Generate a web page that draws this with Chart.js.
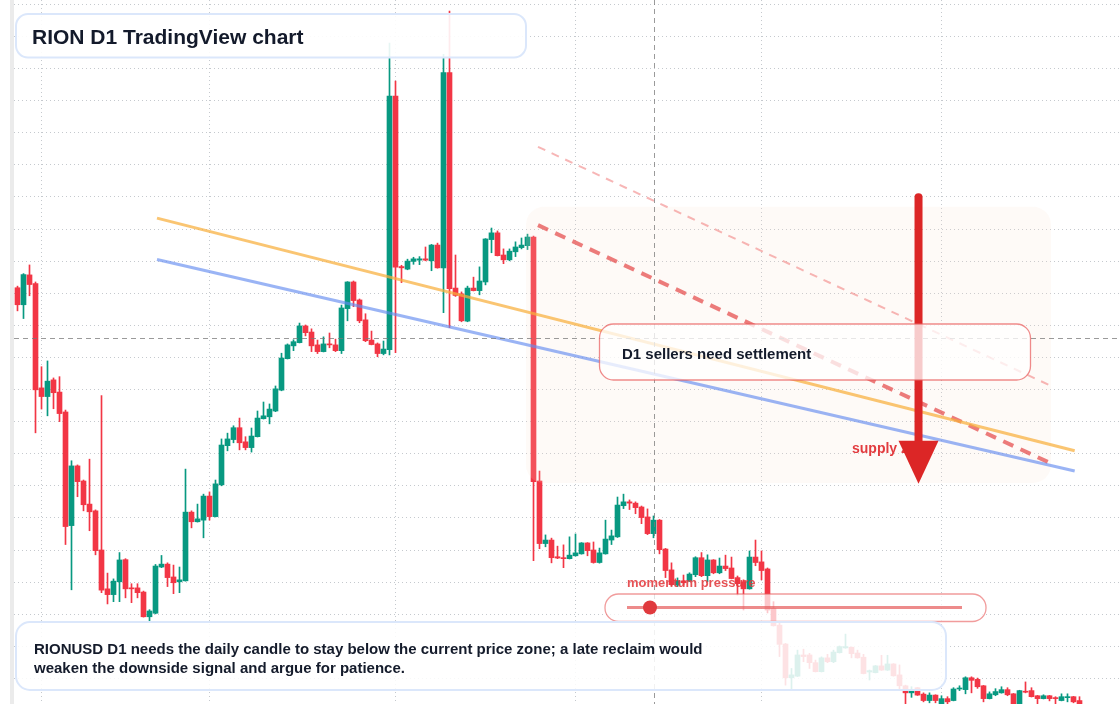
<!DOCTYPE html>
<html><head><meta charset="utf-8">
<script src="https://cdn.jsdelivr.net/npm/chart.js@4.4.1/dist/chart.umd.min.js"></script>
<style>
html,body{margin:0;padding:0;background:#fff;}
#wrap{position:relative;width:1120px;height:704px;overflow:hidden;background:#fff;}
#strip{position:absolute;left:10px;top:0;width:4px;height:704px;background:#ebebeb;}
#c{position:absolute;left:0;top:0;}
</style></head><body>
<div id="wrap"><div id="strip"></div><canvas id="c" width="1120" height="704"></canvas></div>
<script>
// ---- data (daily candles, RIONUSD D1) ----
const opens = [1.317,1.264,1.357,1.330,1.005,0.978,1.030,0.992,0.930,0.576,0.762,0.715,0.643,0.622,0.500,0.379,0.361,0.401,0.470,0.382,
0.382,0.369,0.292,0.303,0.447,0.456,0.416,0.401,0.404,0.618,0.588,0.593,0.668,0.604,0.703,0.825,0.844,0.881,0.837,0.819,
0.853,0.909,0.915,0.933,0.998,1.096,1.136,1.146,1.198,1.179,1.139,1.118,1.142,1.139,1.121,1.252,1.335,1.279,1.217,1.154,
1.142,1.112,1.124,1.914,1.383,1.375,1.399,1.403,1.407,1.401,1.450,1.379,1.987,1.316,1.298,1.213,1.316,1.308,1.335,1.467,
1.488,1.419,1.404,1.429,1.442,1.448,1.475,0.715,0.520,0.531,0.479,0.476,0.473,0.482,0.488,0.522,0.500,0.461,0.488,0.531,
0.541,0.638,0.650,0.646,0.634,0.603,0.551,0.593,0.503,0.438,0.391,0.404,0.403,0.423,0.476,0.420,0.469,0.429,0.450,0.444,
0.414,0.401,0.379,0.478,0.463,0.441,0.318,0.266,0.207,0.102,0.107,0.173,0.173,0.149,0.121,0.164,0.152,0.180,0.195,0.197,
0.179,0.166,0.120,0.118,0.139,0.126,0.145,0.111,0.077,0.055,0.071,0.051,0.031,0.048,0.017,0.037,0.031,0.067,0.065,0.102,
0.097,0.077,0.037,0.049,0.055,0.065,0.052,0.017,0.060,0.062,0.046,0.037,0.046,0.040,0.031,0.040,0.043,0.031];
const highs = [1.322,1.361,1.388,1.335,1.071,1.089,1.036,1.040,0.936,0.778,0.765,0.718,0.783,0.625,0.981,0.428,0.410,0.492,0.473,0.395,
0.395,0.372,0.314,0.455,0.483,0.460,0.453,0.447,0.752,0.622,0.643,0.674,0.681,0.718,0.846,0.864,0.887,0.911,0.853,0.880,
0.933,0.961,0.955,1.011,1.113,1.142,1.155,1.207,1.201,1.189,1.154,1.164,1.176,1.157,1.263,1.336,1.338,1.282,1.236,1.182,
1.145,1.151,2.079,1.961,1.387,1.406,1.412,1.414,1.444,1.452,1.456,2.044,2.179,1.419,1.304,1.322,1.350,1.382,1.470,1.503,
1.494,1.438,1.438,1.460,1.472,1.484,1.478,0.746,0.547,0.537,0.512,0.516,0.541,0.550,0.523,0.523,0.525,0.506,0.593,0.562,
0.665,0.674,0.656,0.650,0.637,0.628,0.606,0.595,0.505,0.460,0.413,0.422,0.429,0.479,0.492,0.485,0.470,0.475,0.484,0.478,
0.419,0.407,0.497,0.531,0.497,0.444,0.339,0.272,0.209,0.131,0.188,0.191,0.178,0.157,0.167,0.175,0.188,0.201,0.238,0.198,
0.188,0.175,0.126,0.140,0.172,0.172,0.146,0.142,0.079,0.074,0.072,0.055,0.055,0.049,0.046,0.043,0.071,0.077,0.105,0.105,
0.101,0.078,0.058,0.068,0.074,0.071,0.053,0.063,0.089,0.071,0.047,0.049,0.047,0.043,0.052,0.052,0.044,0.043];
const lows = [1.245,1.221,1.292,0.865,0.939,0.918,0.940,0.900,0.517,0.376,0.666,0.622,0.560,0.485,0.367,0.332,0.339,0.339,0.351,0.336,
0.351,0.291,0.277,0.301,0.445,0.386,0.364,0.367,0.403,0.569,0.587,0.538,0.593,0.603,0.700,0.809,0.834,0.812,0.812,0.805,
0.852,0.908,0.893,0.931,0.996,1.095,1.121,1.145,1.167,1.118,1.112,1.117,1.130,1.118,1.112,1.214,1.258,1.208,1.149,1.139,
1.102,1.108,1.108,1.115,1.333,1.373,1.390,1.389,1.401,1.370,1.378,1.239,1.193,1.290,1.211,1.211,1.307,1.295,1.326,1.426,
1.416,1.392,1.401,1.414,1.438,1.436,0.467,0.504,0.510,0.460,0.473,0.445,0.472,0.481,0.487,0.482,0.459,0.459,0.487,0.517,
0.539,0.629,0.626,0.613,0.582,0.548,0.538,0.488,0.414,0.389,0.386,0.391,0.402,0.417,0.417,0.401,0.426,0.426,0.436,0.410,
0.360,0.313,0.378,0.451,0.407,0.304,0.263,0.168,0.079,0.067,0.106,0.152,0.131,0.120,0.120,0.149,0.149,0.179,0.194,0.164,
0.163,0.114,0.095,0.117,0.125,0.125,0.107,0.064,0.018,0.041,0.047,0.027,0.024,0.024,0.016,0.018,0.030,0.062,0.052,0.055,
0.069,0.027,0.036,0.046,0.054,0.046,0.014,0.014,0.055,0.042,0.020,0.036,0.030,0.020,0.030,0.027,0.024,0.017];
const closes = [1.264,1.358,1.327,0.999,0.978,1.026,0.990,0.925,0.573,0.762,0.713,0.641,0.619,0.498,0.375,0.361,0.403,0.469,0.379,0.379,
0.367,0.292,0.310,0.450,0.456,0.414,0.398,0.407,0.618,0.588,0.597,0.668,0.604,0.706,0.827,0.846,0.881,0.834,0.819,0.855,
0.911,0.918,0.939,1.002,1.098,1.139,1.149,1.198,1.177,1.136,1.118,1.142,1.139,1.121,1.254,1.335,1.277,1.214,1.152,1.140,
1.112,1.126,1.914,1.381,1.379,1.400,1.407,1.407,1.403,1.450,1.379,1.987,1.314,1.293,1.214,1.316,1.308,1.338,1.469,1.488,
1.417,1.404,1.431,1.444,1.450,1.475,0.713,0.520,0.531,0.476,0.475,0.473,0.484,0.491,0.522,0.498,0.461,0.491,0.534,0.544,
0.640,0.650,0.646,0.632,0.601,0.551,0.593,0.501,0.436,0.392,0.404,0.398,0.425,0.476,0.420,0.469,0.429,0.450,0.442,0.411,
0.395,0.379,0.478,0.461,0.436,0.313,0.264,0.206,0.102,0.111,0.173,0.168,0.149,0.121,0.164,0.152,0.182,0.199,0.199,0.177,
0.164,0.115,0.124,0.139,0.126,0.145,0.108,0.077,0.055,0.062,0.048,0.031,0.048,0.031,0.037,0.027,0.067,0.070,0.102,0.094,
0.074,0.037,0.052,0.059,0.065,0.049,0.017,0.062,0.057,0.043,0.037,0.046,0.037,0.037,0.043,0.043,0.027,0.017];

// month boundaries (candle index of first day) and price grid
const monthStarts = [4, 32, 63, 93, 124, 154];
const monthLabels = ['Feb', 'Mar', 'Apr', 'May', 'Jun', 'Jul'];
const priceTicks = [0.1,0.2,0.3,0.4,0.5,0.6,0.7,0.8,0.9,1.0,1.1,1.2,1.3,1.4,1.5,1.6,1.7,1.8,1.9,2.0,2.1,2.2];

// drawn studies: [candleIndex, price] endpoints
const trendUpper = [[23.25, 1.534], [176.2, 0.809]];
const trendLower = [[23.25, 1.405], [176.2, 0.746]];
const channelMid = [[86.75, 1.512], [172.8, 0.765]];
const channelTop = [[86.75, 1.756], [172.5, 1.009]];
const supplyZone = {x0: 84.75, x1: 172.25, top: 1.569, bottom: 0.709};
const arrowStudy = {x: 150.17, from: 1.611, headBase: 0.8405, tip: 0.706};
const crosshair = {x: 106.08, price: 1.160};

const XMIN = -0.5833, XMAX = 183.75, YMIN = 0.02025, YMAX = 2.2134;
const GREEN = '#089981', RED = '#f23645';
const GRID = '#c5c9ce';
const FONT = '"Liberation Sans", Arial, Helvetica, sans-serif';

const idx = opens.map((_, i) => i);
const colors = idx.map(i => closes[i] >= opens[i] ? GREEN : RED);
const toPts = arr => arr.map(p => ({x: p[0], y: p[1]}));

function rr(ctx, x, y, w, h, r) {
  ctx.beginPath();
  ctx.moveTo(x + r, y);
  ctx.lineTo(x + w - r, y);
  ctx.arcTo(x + w, y, x + w, y + r, r);
  ctx.lineTo(x + w, y + h - r);
  ctx.arcTo(x + w, y + h, x + w - r, y + h, r);
  ctx.lineTo(x + r, y + h);
  ctx.arcTo(x, y + h, x, y + h - r, r);
  ctx.lineTo(x, y + r);
  ctx.arcTo(x, y, x + r, y, r);
  ctx.closePath();
}

const overlay = {
  id: 'overlay',
  beforeDatasetsDraw(chart) {
    // month gridlines (vertical) from the x scale
    const {ctx, scales: {x}, chartArea: ca} = chart;
    ctx.save();
    ctx.strokeStyle = GRID; ctx.lineWidth = 1; ctx.setLineDash([1, 3]);
    monthStarts.forEach(v => {
      const px = Math.round(x.getPixelForValue(v)) + 0.5;
      ctx.beginPath(); ctx.moveTo(px, ca.top); ctx.lineTo(px, ca.bottom); ctx.stroke();
    });
    ctx.restore();
  },
  afterDatasetDraw(chart, args) {
    if (args.index !== 1) return;
    const {ctx, scales: {x, y}} = chart;
    const x0 = x.getPixelForValue(supplyZone.x0), x1 = x.getPixelForValue(supplyZone.x1);
    const y0 = y.getPixelForValue(supplyZone.top), y1 = y.getPixelForValue(supplyZone.bottom);
    ctx.save();
    rr(ctx, x0, y0, x1 - x0, y1 - y0, 18);
    ctx.fillStyle = 'rgba(250,222,205,0.16)';
    ctx.fill();
    ctx.restore();
  },
  afterDraw(chart) {
    const {ctx, scales: {x, y}, chartArea: ca} = chart;
    ctx.save();
    // crosshair
    ctx.strokeStyle = 'rgba(120,120,120,0.75)';
    ctx.lineWidth = 1;
    ctx.setLineDash([5, 4]);
    const cy = Math.round(y.getPixelForValue(crosshair.price)) + 0.5;
    const cx = Math.round(x.getPixelForValue(crosshair.x)) + 0.5;
    ctx.beginPath(); ctx.moveTo(ca.left, cy); ctx.lineTo(ca.right, cy); ctx.stroke();
    ctx.beginPath(); ctx.moveTo(cx, ca.top); ctx.lineTo(cx, ca.bottom); ctx.stroke();
    ctx.setLineDash([]);

    // supply zone label
    ctx.font = 'bold 14px ' + FONT;
    ctx.fillStyle = '#e23b3f';
    ctx.fillText('supply zone', 852, 453);

    // arrow
    const ax = x.getPixelForValue(arrowStudy.x);
    const aTop = y.getPixelForValue(arrowStudy.from);
    const aBase = y.getPixelForValue(arrowStudy.headBase);
    const aTip = y.getPixelForValue(arrowStudy.tip);
    ctx.strokeStyle = '#dc2626'; ctx.fillStyle = '#dc2626';
    ctx.lineWidth = 8; ctx.lineCap = 'round';
    ctx.beginPath(); ctx.moveTo(ax, aTop + 4); ctx.lineTo(ax, aBase + 4); ctx.stroke();
    ctx.lineCap = 'butt';
    ctx.beginPath(); ctx.moveTo(ax - 20, aBase); ctx.lineTo(ax + 20, aBase); ctx.lineTo(ax, aTip); ctx.closePath(); ctx.fill();

    // D1 annotation box
    rr(ctx, 599.5, 324, 431, 56, 14);
    ctx.fillStyle = 'rgba(255,255,255,0.76)'; ctx.fill();
    ctx.strokeStyle = 'rgba(232,90,90,0.7)'; ctx.lineWidth = 1.3; ctx.stroke();
    ctx.font = 'bold 15px ' + FONT; ctx.fillStyle = '#141b2b';
    ctx.fillText('D1 sellers need settlement', 622, 359);

    // title box
    rr(ctx, 16, 14, 510, 43.5, 12);
    ctx.fillStyle = 'rgba(255,255,255,0.9)'; ctx.fill();
    ctx.strokeStyle = '#dbe7fb'; ctx.lineWidth = 2; ctx.stroke();
    ctx.font = 'bold 21px ' + FONT; ctx.fillStyle = '#131a2b';
    ctx.fillText('RION D1 TradingView chart', 32, 43.5);

    // momentum label + slider
    ctx.font = 'bold 13px ' + FONT; ctx.fillStyle = 'rgba(226,58,62,0.88)';
    ctx.fillText('momentum pressure', 627, 587);
    rr(ctx, 605, 594, 381, 27.5, 13.5);
    ctx.fillStyle = 'rgba(255,255,255,0.72)'; ctx.fill();
    ctx.strokeStyle = 'rgba(232,90,90,0.6)'; ctx.lineWidth = 1.3; ctx.stroke();
    ctx.strokeStyle = 'rgba(230,90,90,0.7)'; ctx.lineWidth = 3;
    ctx.beginPath(); ctx.moveTo(627, 607.5); ctx.lineTo(962, 607.5); ctx.stroke();
    ctx.fillStyle = '#e03a3e';
    ctx.beginPath(); ctx.arc(650, 607.5, 7, 0, Math.PI * 2); ctx.fill();

    // bottom note
    rr(ctx, 16, 622, 930, 68, 14);
    ctx.fillStyle = 'rgba(255,255,255,0.86)'; ctx.fill();
    ctx.strokeStyle = '#dbe7fb'; ctx.lineWidth = 2; ctx.stroke();
    ctx.font = 'bold 15px ' + FONT; ctx.fillStyle = '#141b2b';
    ctx.fillText('RIONUSD D1 needs the daily candle to stay below the current price zone; a late reclaim would', 34, 653.5);
    ctx.fillText('weaken the downside signal and argue for patience.', 34, 673);
    ctx.restore();
  }
};

const lineDs = (pts, color, width, dash) => ({
  type: 'line', data: toPts(pts), borderColor: color, borderWidth: width,
  borderDash: dash || [], pointRadius: 0, fill: false, tension: 0, order: 2
});

new Chart(document.getElementById('c'), {
  type: 'bar',
  data: {
    datasets: [
      {label: 'wick', data: idx.map(i => ({x: i, y: [lows[i], highs[i]]})), backgroundColor: colors,
       barThickness: 1, grouped: false, order: 12, minBarLength: 1},
      {label: 'body', data: idx.map(i => ({x: i, y: [opens[i], closes[i]]})), backgroundColor: colors,
       barThickness: 5, grouped: false, order: 11, minBarLength: 1},
      lineDs(trendUpper, 'rgba(248,175,60,0.72)', 3),
      lineDs(trendLower, 'rgba(100,140,240,0.65)', 3),
      lineDs(channelTop, 'rgba(240,110,110,0.5)', 2, [8, 7]),
      lineDs(channelMid, 'rgba(228,70,70,0.7)', 4, [11, 8])
    ]
  },
  options: {
    responsive: false, animation: false, devicePixelRatio: 1, events: [],
    layout: {padding: {left: 14, right: 0, top: 0, bottom: 0}},
    plugins: {legend: {display: false}, tooltip: {enabled: false}},
    scales: {
      x: {type: 'linear', min: XMIN, max: XMAX, offset: false,
          ticks: {display: false}, grid: {display: false, drawTicks: false},
          border: {display: false}},
      y: {type: 'linear', min: YMIN, max: YMAX,
          ticks: {display: false}, grid: {color: GRID, lineWidth: 1, drawTicks: false},
          border: {display: false, dash: [1, 3]},
          afterBuildTicks: s => { s.ticks = priceTicks.map(v => ({value: v})); }}
    }
  },
  plugins: [overlay]
});
</script>
</body></html>
